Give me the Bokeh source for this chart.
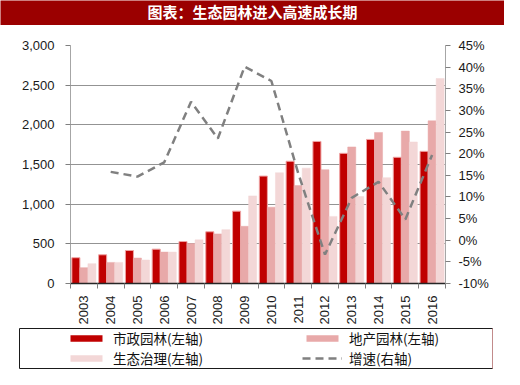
import math
from bokeh.plotting import figure
from bokeh.layouts import column
from bokeh.models import (Range1d, LinearAxis, FixedTicker, NumeralTickFormatter,
                          PrintfTickFormatter, ColumnDataSource, Legend, LegendItem,
                          Label)
from bokeh.transform import dodge
from bokeh.embed import file_html
from bokeh.resources import INLINE

# ---------------- data ----------------
years = ["2003", "2004", "2005", "2006", "2007", "2008", "2009",
         "2010", "2011", "2012", "2013", "2014", "2015", "2016"]
municipal = [325, 362, 416, 433, 529, 652, 912, 1354, 1541, 1791, 1641, 1816, 1591, 1666]
real_estate = [200, 266, 321, 396, 504, 625, 721, 962, 1234, 1434, 1721, 1904, 1921, 2050]
ecology = [250, 266, 296, 396, 550, 679, 1104, 1396, 1454, 846, 1096, 1334, 1784, 2584]
growth_years = years[1:]
growth = [15.8, 14.7, 18.0, 32.0, 23.5, 40.1, 36.8, 15.5, -3.3, 9.8, 13.5, 4.8, 19.7]
left_ticks = [0, 500, 1000, 1500, 2000, 2500, 3000]
right_ticks = [-10, -5, 0, 5, 10, 15, 20, 25, 30, 35, 40, 45]

title_text = "图表：生态园林进入高速成长期"
names = ["市政园林(左轴)", "地产园林(左轴)", "生态治理(左轴)", "增速(右轴)"]

# ---------------- styles ----------------
C_MUN = "#C00000"
C_MUN_EDGE = "#EFA3A3"
C_RE = "#E8A9A9"
C_ECO = "#F3D7D7"
C_LINE = "#808080"
TITLE_BG = "#9B0000"
FONT = "Liberation Sans"
CJK = "Noto Sans CJK SC"
W = 504

# ---------------- title bar ----------------
t = figure(width=W, height=25, output_backend="svg", toolbar_location=None,
           x_range=Range1d(0, W), y_range=Range1d(0, 25),
           x_axis_location=None, y_axis_location=None, min_border=0,
           frame_align=False)
t.xgrid.visible = False
t.ygrid.visible = False
t.outline_line_color = None
t.background_fill_color = TITLE_BG
t.border_fill_color = TITLE_BG
t.add_layout(Label(x=W / 2, y=14, text=title_text, text_align="center",
                   text_baseline="middle", text_color="white", text_font=CJK,
                   text_font_style="bold", text_font_size="15px"))

# ---------------- main chart ----------------
idx = list(range(len(years)))
src = ColumnDataSource(dict(x=idx, years=years, municipal=municipal,
                            real_estate=real_estate, ecology=ecology))
gsrc = ColumnDataSource(dict(x=[years.index(y) for y in growth_years], growth=growth))

p = figure(width=W, height=302, output_backend="svg", toolbar_location=None,
           x_range=Range1d(-0.5, len(years) - 0.5), y_range=Range1d(0, 3000),
           x_axis_location=None, y_axis_location=None,
           min_border_left=70, min_border_right=59, min_border_top=20,
           min_border_bottom=44, frame_align=False)
p.extra_y_ranges = {"pct": Range1d(-10, 45)}
p.outline_line_color = None
p.background_fill_color = "white"
p.border_fill_color = "white"

p.xgrid.visible = False
p.ygrid.ticker = FixedTicker(ticks=left_ticks)
p.ygrid.grid_line_color = "#262626"
p.ygrid.grid_line_dash = "1 1"
p.ygrid.grid_line_width = 1

p.vbar(x=dodge("x", -0.3), top="municipal", width=0.3, source=src,
       fill_color=C_MUN, line_color=C_MUN_EDGE, line_width=1)
p.vbar(x=dodge("x", 0.0), top="real_estate", width=0.3, source=src,
       fill_color=C_RE, line_color=C_RE, line_width=0.5)
p.vbar(x=dodge("x", 0.3), top="ecology", width=0.3, source=src,
       fill_color=C_ECO, line_color=C_ECO, line_width=0.5)
p.line(x="x", y="growth", source=gsrc, y_range_name="pct",
       line_color=C_LINE, line_width=2.5, line_dash="8 5")

yl = LinearAxis(ticker=FixedTicker(ticks=left_ticks),
                formatter=NumeralTickFormatter(format="0,0"))
yr = LinearAxis(y_range_name="pct", ticker=FixedTicker(ticks=right_ticks),
                formatter=PrintfTickFormatter(format="%d%%"))
xb = LinearAxis(ticker=FixedTicker(ticks=idx, minor_ticks=[i - 0.5 for i in range(len(years) + 1)]),
                major_label_overrides={i: y for i, y in zip(idx, years)},
                major_label_orientation=math.pi / 2)
for ax in (yl, yr):
    ax.axis_line_color = "#A6A6A6"
    ax.major_tick_line_color = "#7F7F7F"
    ax.major_tick_in = 0
    ax.major_tick_out = 5
    ax.minor_tick_line_color = None
    ax.major_label_text_font = FONT
    ax.major_label_text_font_size = "13px"
    ax.major_label_text_color = "#1A1A1A"
yl.major_label_standoff = 11
yr.major_label_standoff = 8
xb.axis_line_color = "#262626"
xb.axis_line_width = 1.5
xb.major_tick_line_color = None
xb.major_tick_in = 0
xb.major_tick_out = 5
xb.minor_tick_line_color = "#7F7F7F"
xb.minor_tick_in = 0
xb.minor_tick_out = 5
xb.major_label_standoff = 7
xb.major_label_text_font = FONT
xb.major_label_text_font_size = "13px"
xb.major_label_text_color = "#1A1A1A"
p.add_layout(yl, "left")
p.add_layout(yr, "right")
p.add_layout(xb, "below")

# ---------------- legend panel ----------------
lg = figure(width=W, height=42, output_backend="svg", toolbar_location=None,
            x_range=Range1d(0, 1), y_range=Range1d(0, 1),
            x_axis_location=None, y_axis_location=None,
            min_border_left=19, min_border_right=12, min_border_top=1,
            min_border_bottom=1, frame_align=False)
lg.xgrid.visible = False
lg.ygrid.visible = False
lg.outline_line_color = "#1A1A1A"
lg.outline_line_width = 1
lg.background_fill_color = "white"
lg.border_fill_color = "white"
# legend proxies (placed outside the visible range; only their styles are shown)
proxy = ColumnDataSource(dict(x=[5, 6], top=[5, 6], y=[5, 6]))
k1 = lg.vbar(x="x", top="top", width=0.1, source=proxy, fill_color=C_MUN, line_color=None)
k2 = lg.vbar(x="x", top="top", width=0.1, source=proxy, fill_color=C_RE, line_color=None)
k3 = lg.vbar(x="x", top="top", width=0.1, source=proxy, fill_color=C_ECO, line_color=None)
k4 = lg.line(x="x", y="y", source=proxy, line_color=C_LINE, line_width=2.5, line_dash="8 5")


def make_legend(items, x):
    return Legend(items=items, location=(x, 0), orientation="vertical",
                  glyph_width=40, glyph_height=8, label_standoff=7,
                  label_height=19, spacing=0, padding=0, margin=0,
                  border_line_color=None, background_fill_alpha=0,
                  label_text_font=CJK, label_text_font_size="13.5px",
                  label_text_color="#111111")


lg.add_layout(make_legend([LegendItem(label=names[0], renderers=[k1]),
                           LegendItem(label=names[2], renderers=[k3])], 47))
lg.add_layout(make_legend([LegendItem(label=names[1], renderers=[k2]),
                           LegendItem(label=names[3], renderers=[k4])], 283))

layout = column(t, p, lg, spacing=0)
open("out.html", "w").write(file_html(layout, INLINE))
